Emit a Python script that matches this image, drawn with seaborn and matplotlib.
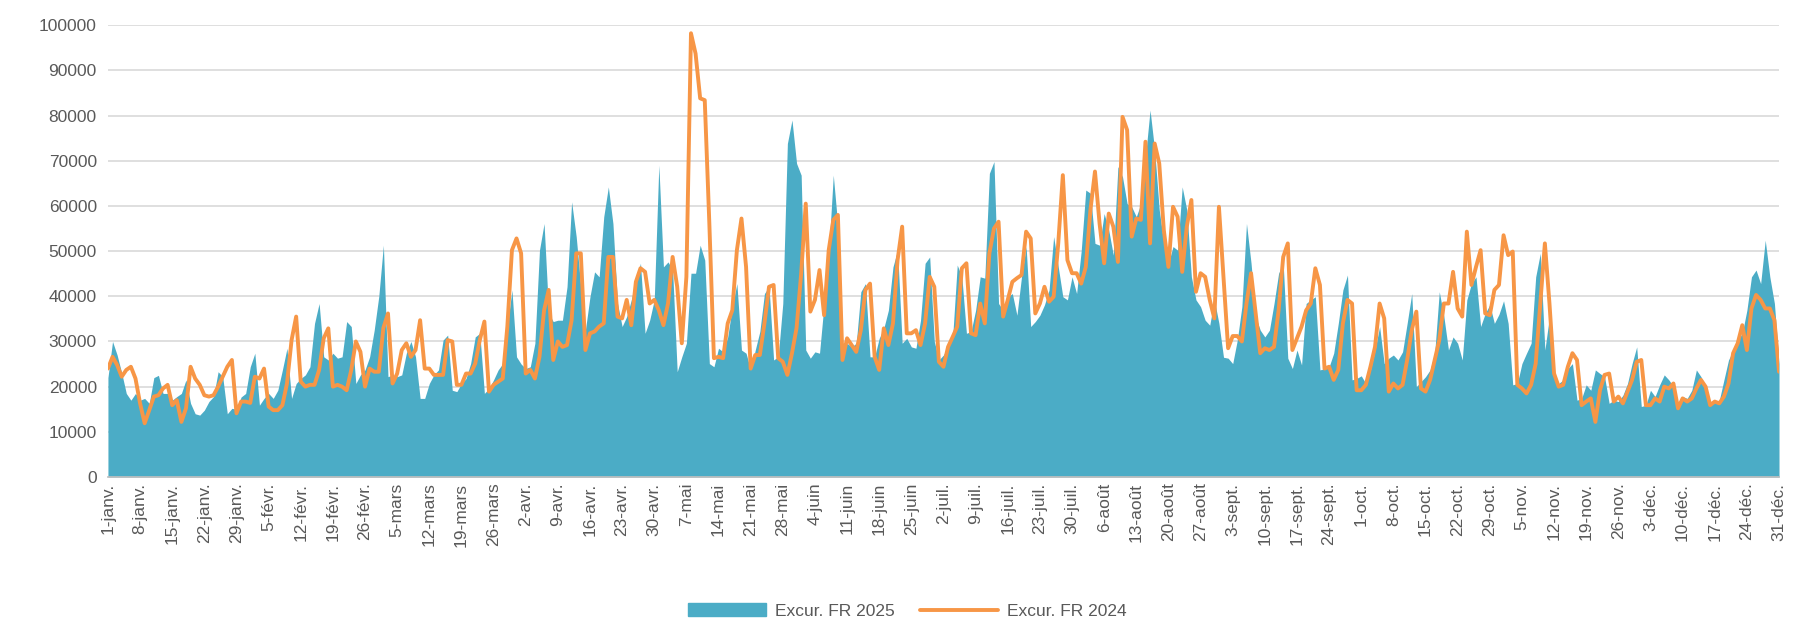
import matplotlib
matplotlib.use("Agg")
import matplotlib.pyplot as plt
from matplotlib.patches import Patch
from matplotlib.lines import Line2D
import seaborn as sns
import pandas as pd

# =====================================================
# DATA - daily excursionists, 1 Jan -> 31 Dec
# =====================================================
fr_2025 = [
    22000, 30000, 27000, 23000, 18500, 17000, 18500, 17000, 17400, 16300,
    22000, 22500, 18500, 18500, 17000, 17800, 18500, 21500, 16300, 14000,
    13700, 14800, 16700, 17800, 23300, 22200, 14000, 15200, 15000, 17700,
    18500, 24400, 27400, 15900, 17400, 18500, 17400, 19200, 23700, 28500,
    17400, 20700, 21800, 22600, 24400, 34000, 38400, 26600, 25900, 27400,
    26300, 26600, 34400, 33300, 20700, 22600, 23700, 26600, 32500, 40000,
    51300, 22200, 22600, 22200, 22600, 27400, 30000, 26600, 17400, 17400,
    20700, 22600, 23700, 30300, 31400, 19200, 18900, 20700, 21800, 25100,
    31000, 31800, 18500, 19600, 21500, 23700, 25100, 33300, 41400, 26600,
    25000, 24000, 24400, 29600, 50200, 56100, 36200, 34400, 34700, 34700,
    42100, 60900, 53200, 42100, 32500, 39900, 45400, 44300, 57600, 64200,
    56100, 38400, 33300, 35500, 39200, 43600, 47300, 31800, 34700, 39200,
    69000, 46500, 47600, 45800, 23300, 26600, 29600, 45100, 45100, 51300,
    48000, 25100, 24400, 28500, 27700, 31000, 37700, 42800, 28100, 27400,
    23700, 28100, 32200, 40600, 42100, 25900, 26600, 38400, 73800, 79000,
    69400, 66800, 28100, 26300, 27700, 27400, 38400, 49500, 66800, 55400,
    27400, 29600, 28800, 29600, 41000, 42800, 26600, 26600, 30700, 32900,
    36900, 46500, 50200, 29600, 30700, 28800, 28500, 34700, 47300, 48700,
    30000, 25900, 27000, 28800, 31000, 46900, 44300, 31800, 32200, 36900,
    44300, 44000, 67200, 69800, 38400, 36900, 39900, 40600, 35800, 44300,
    51000, 33300, 34400, 35800, 38100, 41400, 53200, 46500, 39900, 39200,
    44300, 40600, 50000, 63500, 62800, 51700, 51300, 58300, 54600, 49100,
    68700, 66400, 60500, 59800, 57600, 60500, 70900, 81200, 72300, 59100,
    51700, 47300, 51000, 50200, 64200, 59100, 44300, 39200, 37700, 34700,
    33600, 39200, 34000, 26500, 26300, 25100, 30300, 37700, 56100, 47300,
    35500, 32500, 31000, 32500, 38400, 45100, 47300, 26300, 24000, 28100,
    24800, 38400, 39200, 39900, 23700, 24000, 24400, 27400, 34000, 41400,
    44700, 21500, 21800, 22400, 20700, 23700, 28100, 33300, 25100, 26300,
    27000, 25900, 27700, 34000, 40600, 20000, 21100, 22200, 23700, 27400,
    41000, 35500, 28100, 31000, 29600, 25900, 39200, 42800, 44300, 33300,
    36200, 38100, 34000, 36000, 39000, 34000, 20400, 20700, 25100, 27400,
    29600, 44300, 49500, 28100, 35500, 22200, 20700, 21500, 24000, 25100,
    17000, 17400, 20400, 19200, 23700, 22900, 22200, 16300, 17000, 16700,
    18100, 20700, 25100, 28800, 15600, 15900, 19200, 17800, 20400, 22600,
    21500, 20000, 16300, 17800, 17400, 19200, 23700, 22200, 20000, 15900,
    16700, 17000, 21500, 25900, 28100, 30300, 31800, 36900, 44300, 45800,
    42800, 52400, 44300, 38400, 25100,
]

fr_2024 = [
    24000, 26600, 24800, 22200, 23700, 24400, 21800, 16300, 11900, 14800,
    17800, 18100, 19600, 20400, 15900, 17000, 12200, 15200, 24400, 21800,
    20400, 18100, 17800, 18100, 20000, 22200, 24400, 25900, 14100, 16700,
    16700, 16400, 22200, 21800, 24000, 15600, 14800, 14800, 15900, 20700,
    30300, 35500, 21100, 20000, 20400, 20400, 23700, 30700, 32900, 20000,
    20400, 20000, 19200, 23700, 30000, 27700, 20000, 24000, 23300, 23300,
    33000, 36200, 20700, 22900, 28100, 29600, 26600, 28100, 34700, 24000,
    24000, 22600, 22600, 22600, 30300, 30000, 20400, 20400, 22900, 22900,
    25100, 30300, 34400, 18900, 20400, 21100, 21800, 33300, 50200, 52800,
    49500, 22900, 23700, 21800, 26600, 36900, 41400, 25900, 30000, 28800,
    29200, 34700, 49500, 49500, 28100, 31800, 32200, 33300, 34000, 48700,
    48700, 35500, 35100, 39200, 33600, 43200, 46200, 45400, 38400, 39200,
    36900, 33600, 38400, 48700, 42100, 29600, 44300, 98200, 93700, 83800,
    83400, 56100, 26300, 26600, 26300, 34000, 36900, 50200, 57200, 46500,
    24000, 27000, 27000, 34000, 42100, 42500, 26300, 25500, 22600, 27400,
    33000, 45000, 60500, 36600, 39200, 45800, 35800, 50200, 56900, 58000,
    25900, 30700, 29200, 27700, 32500, 41400, 42800, 26600, 23700, 32900,
    29200, 34000, 48000, 55400, 31800, 31800, 32500, 29200, 34000, 44300,
    42100, 25500, 24400, 28800, 31000, 33300, 46200, 47300, 31800, 31400,
    38400, 34000, 49500, 55000, 56500, 35500, 39200, 43200, 44000, 44700,
    54300, 52800, 36200, 38400, 42100, 38800, 39900, 51700, 66800, 48000,
    45100, 45100, 42800, 46500, 59000, 67600, 56100, 47300, 58300, 55400,
    47600, 79700, 76800, 53200, 57200, 56900, 74200, 51700, 73800, 69400,
    54600, 46500, 59800, 57600, 45400, 55400, 61300, 41000, 45100, 44300,
    39200, 35100, 59800, 44300, 28500, 31200, 31200, 30000, 38400, 45100,
    36200, 27400, 28500, 28100, 28800, 36900, 48700, 51700, 28100, 30700,
    33300, 36900, 38400, 46200, 42500, 24000, 24400, 21500, 23700, 34000,
    39200, 38400, 19200, 19200, 20400, 24400, 28800, 38400, 35100, 18900,
    20700, 19600, 20400, 25900, 32500, 36600, 19600, 18900, 21500, 25900,
    30300, 38400, 38400, 45400, 37300, 35500, 54300, 42500, 46500, 50200,
    36200, 35800, 41400, 42500, 53500, 49100, 49900, 20400, 19600, 18500,
    20400, 25100, 38400, 51700, 38400, 22900, 20000, 20400, 24400, 27400,
    25900, 15900, 16700, 17400, 12200, 19200, 22600, 22900, 16700, 17800,
    16300, 18900, 21500, 25500, 25900, 15900, 15900, 17400, 16700, 20000,
    19600, 20700, 15200, 17400, 16700, 17400, 19600, 21500, 20000, 15900,
    16700, 16300, 17800, 20700, 27400, 29600, 33600, 28100, 37300, 40300,
    39200, 37300, 37300, 34700, 23300,
]

month_abbr = ["janv.", "févr.", "mars", "avr.", "mai", "juin",
              "juil.", "août", "sept.", "oct.", "nov.", "déc."]

dates = pd.date_range("2025-01-01", "2025-12-31", freq="D")
df = pd.DataFrame({"day": range(len(dates)),
                   "fr_2025": fr_2025,
                   "fr_2024": fr_2024})

tick_pos = list(range(0, len(dates), 7))
tick_labels = [f"{dates[i].day}-{month_abbr[dates[i].month - 1]}" for i in tick_pos]

# =====================================================
# PLOT
# =====================================================
sns.set_theme(style="white")
plt.rcParams["font.family"] = ["Liberation Sans", "DejaVu Sans"]

BLUE = "#4BACC6"
ORANGE = "#F79646"
TXT = "#595959"
LW = 2.8

fig = plt.figure(figsize=(17.93, 6.28), dpi=100)
ax = fig.add_axes([0.0602, 0.2404, 0.9320, 0.7196])

ax.fill_between(df["day"], df["fr_2025"], 0, color=BLUE, linewidth=0, zorder=2)
sns.lineplot(data=df, x="day", y="fr_2024", color=ORANGE, linewidth=LW,
             ax=ax, zorder=3, legend=False, solid_joinstyle="round",
             solid_capstyle="round")

ax.set_xlim(0, len(dates) - 1)
ax.set_ylim(0, 100000)
ax.set_yticks(range(0, 100001, 10000))
ax.set_yticklabels([str(v) for v in range(0, 100001, 10000)])
ax.set_xticks(tick_pos)
ax.set_xticklabels(tick_labels, rotation=90)

ax.grid(axis="y", color="#D9D9D9", linewidth=1.2, zorder=0)
ax.set_axisbelow(True)
for side in ["top", "right", "left"]:
    ax.spines[side].set_visible(False)
ax.spines["bottom"].set_color("#BFBFBF")
ax.tick_params(axis="x", colors=TXT, labelsize=12.5, length=0, pad=4)
ax.tick_params(axis="y", colors=TXT, labelsize=12.5, length=0, pad=8)
ax.set_xlabel("")
ax.set_ylabel("")

handles = [Patch(color=BLUE, label="Excur. FR 2025"),
           Line2D([], [], color=ORANGE, linewidth=LW, label="Excur. FR 2024")]
fig.legend(handles=handles, loc="center", bbox_to_anchor=(0.506, 0.027),
           ncol=2, frameon=False, fontsize=12.5, labelcolor=TXT,
           handlelength=4.5, columnspacing=1.5, handletextpad=0.5)

fig.savefig("out.png", dpi=100)
